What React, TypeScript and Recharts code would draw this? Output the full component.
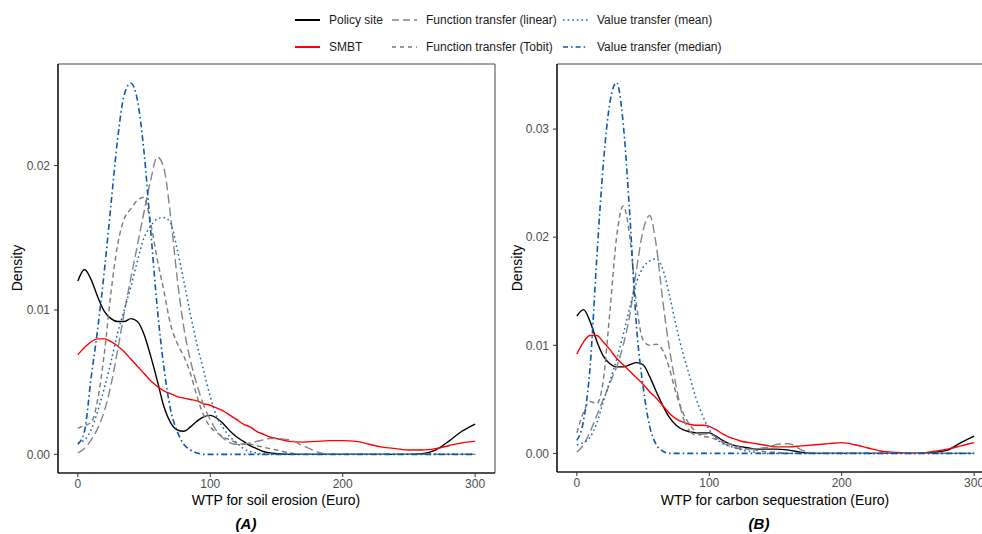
import React from 'react';
import { LineChart, Line, XAxis, YAxis, ReferenceArea } from 'recharts';

// WTP grid (Euro): every 5 up to 150, then every 10
const xs = [
  0, 5, 10, 15, 20, 25, 30, 35, 40, 45, 50, 55, 60, 65, 70, 75, 80, 85, 90, 95, 100,
  105, 110, 115, 120, 125, 130, 135, 140, 145, 150,
  160, 170, 180, 190, 200, 210, 220, 230, 240, 250, 260, 270, 280, 290, 300,
];

// (A) soil erosion
const policyA = [
  0.0120, 0.0128, 0.0121, 0.0109, 0.0099, 0.0094, 0.0092, 0.0092, 0.0094, 0.0092, 0.0083,
  0.0068, 0.0051, 0.0033, 0.0022, 0.0017, 0.0016, 0.0019, 0.0023, 0.0026, 0.0027,
  0.0025, 0.0021, 0.0016, 0.0012, 0.0009, 0.0006, 0.0004, 0.0002, 0.0001, 0.00005,
  0, 0, 0, 0, 0, 0, 0, 0, 0, 0, 0.00005, 0.0003, 0.0009, 0.0016, 0.0021,
];
const smbtA = [
  0.0069, 0.0074, 0.0078, 0.0080, 0.0080, 0.0078, 0.0075, 0.0071, 0.0066, 0.0061, 0.0056,
  0.0051, 0.0047, 0.0044, 0.0042, 0.0040, 0.0039, 0.0038, 0.0037, 0.0035, 0.0034,
  0.0032, 0.0030, 0.0027, 0.0024, 0.0021, 0.0019, 0.0016, 0.0014, 0.0012, 0.0011,
  0.0009, 0.00085, 0.0009, 0.00095, 0.00095, 0.0009, 0.0007, 0.0005, 0.0004, 0.0003,
  0.0003, 0.0004, 0.0006, 0.0008, 0.0009,
];
const linearA = [
  0.0001, 0.0004, 0.0010, 0.0018, 0.0030, 0.0048, 0.0072, 0.0098, 0.0122, 0.0145, 0.0168,
  0.0190, 0.0206, 0.0198, 0.0165, 0.0122, 0.0088, 0.0065, 0.0048, 0.0034, 0.0024,
  0.0016, 0.0011, 0.0008, 0.0007, 0.0007, 0.0008, 0.0009, 0.0010, 0.0011, 0.0011,
  0.0010, 0.0006, 0.0002, 0, 0, 0, 0, 0, 0, 0, 0, 0, 0, 0, 0,
];
const tobitA = [
  0.0018, 0.0020, 0.0022, 0.0038, 0.0070, 0.0112, 0.0145, 0.0163, 0.0170, 0.0176, 0.0178,
  0.0160, 0.0135, 0.0113, 0.0090, 0.0077, 0.0068, 0.0056, 0.0040, 0.0027, 0.0019,
  0.0015, 0.0012, 0.0010, 0.0008, 0.0007, 0.0007, 0.0006, 0.0005, 0.0004, 0.0003,
  0.0001, 0, 0, 0, 0, 0, 0, 0, 0, 0, 0, 0, 0, 0, 0,
];
const meanA = [
  0.0008, 0.0010, 0.0017, 0.0030, 0.0046, 0.0064, 0.0084, 0.0100, 0.0116, 0.0134, 0.0150,
  0.0158, 0.0163, 0.0164, 0.0160, 0.0142, 0.0120, 0.0097, 0.0076, 0.0058, 0.0040,
  0.0026, 0.0018, 0.0012, 0.0008, 0.0004, 0.0002, 0.0001, 0, 0, 0,
  0, 0, 0, 0, 0, 0, 0, 0, 0, 0, 0, 0, 0, 0, 0,
];
const medianA = [
  0.0007, 0.0016, 0.0053, 0.0087, 0.0127, 0.0173, 0.0218, 0.0249, 0.0257, 0.0245, 0.0209,
  0.0155, 0.0101, 0.0060, 0.0031, 0.0016, 0.0007, 0.0003, 0.0001, 0, 0,
  0, 0, 0, 0, 0, 0, 0, 0, 0, 0,
  0, 0, 0, 0, 0, 0, 0, 0, 0, 0, 0, 0, 0, 0, 0,
];

// (B) carbon sequestration
const policyB = [
  0.0127, 0.0133, 0.0122, 0.0104, 0.0090, 0.0083, 0.0080, 0.0080, 0.0082, 0.0084, 0.0082,
  0.0071, 0.0057, 0.0044, 0.0033, 0.0026, 0.0022, 0.0020, 0.0019, 0.0019, 0.0019,
  0.0016, 0.0012, 0.0009, 0.0007, 0.0006, 0.0005, 0.0004, 0.0004, 0.0004, 0.0004,
  0.0003, 0.0001, 0, 0, 0, 0, 0, 0, 0, 0, 0.00003, 0.0001, 0.0003, 0.0010, 0.0016,
];
const smbtB = [
  0.0092, 0.0103, 0.0109, 0.0109, 0.0103, 0.0096, 0.0088, 0.0082, 0.0076, 0.0070, 0.0064,
  0.0057, 0.0051, 0.0044, 0.0037, 0.0032, 0.0029, 0.0027, 0.0026, 0.0026, 0.0025,
  0.0022, 0.0018, 0.0015, 0.0013, 0.0011, 0.0010, 0.0009, 0.0008, 0.0007, 0.0006,
  0.0006, 0.0007, 0.0008, 0.0009, 0.0010, 0.0008, 0.0005, 0.0002, 0.0001, 0.00003,
  0.00003, 0.0002, 0.0004, 0.0007, 0.0010,
];
const linearB = [
  0.0001, 0.0008, 0.0020, 0.0035, 0.0050, 0.0065, 0.0080, 0.0100, 0.0128, 0.0170, 0.0206,
  0.0220, 0.0192, 0.0140, 0.0096, 0.0062, 0.0034, 0.0021, 0.0017, 0.0018, 0.0018,
  0.0015, 0.0010, 0.0007, 0.0005, 0.0004, 0.0004, 0.0004, 0.0005, 0.0006, 0.0008,
  0.0009, 0.0003, 0, 0, 0, 0, 0, 0, 0, 0, 0, 0, 0, 0, 0,
];
const tobitB = [
  0.0019, 0.0038, 0.0048, 0.0046, 0.0068, 0.0132, 0.0200, 0.0229, 0.0200, 0.0138, 0.0105,
  0.0100, 0.0101, 0.0095, 0.0078, 0.0055, 0.0038, 0.0027, 0.0020, 0.0016, 0.0015,
  0.0013, 0.0011, 0.0009, 0.0007, 0.0005, 0.0004, 0.0003, 0.0002, 0.0001, 0.0001,
  0, 0, 0, 0, 0, 0, 0, 0, 0, 0, 0, 0, 0, 0, 0,
];
const meanB = [
  0.0008, 0.0010, 0.0015, 0.0028, 0.0048, 0.0067, 0.0087, 0.0110, 0.0135, 0.0158, 0.0172,
  0.0178, 0.0180, 0.0170, 0.0146, 0.0118, 0.0093, 0.0072, 0.0051, 0.0035, 0.0022,
  0.0014, 0.0009, 0.0007, 0.0005, 0.0003, 0.0002, 0.0001, 0, 0, 0,
  0, 0, 0, 0, 0, 0, 0, 0, 0, 0, 0, 0, 0, 0, 0,
];
const medianB = [
  0.0012, 0.0030, 0.0080, 0.0180, 0.0268, 0.0325, 0.0343, 0.0305, 0.0220, 0.0118, 0.0062,
  0.0025, 0.0008, 0.0002, 0, 0, 0, 0, 0, 0, 0,
  0, 0, 0, 0, 0, 0, 0, 0, 0, 0,
  0, 0, 0, 0, 0, 0, 0, 0, 0, 0, 0, 0, 0, 0, 0,
];

const seriesKeys = ['policy', 'smbt', 'linear', 'tobit', 'mean', 'median'];
const seriesNames = [
  'Policy site', 'SMBT', 'Function transfer (linear)',
  'Function transfer (Tobit)', 'Value transfer (mean)', 'Value transfer (median)',
];
const xTicks = [0, 100, 200, 300];
const yTicksA = [0, 0.01, 0.02];
const yTicksB = [0, 0.01, 0.02, 0.03];

const styles: Record<string, { stroke: string; dash?: string; legendDash?: string; width: number }> = {
  policy: { stroke: '#000000', width: 1.4 },
  smbt: { stroke: '#ff0000', width: 1.4 },
  linear: { stroke: '#858585', dash: '9 4', legendDash: '7 4', width: 1.4 },
  tobit: { stroke: '#7a7a7a', dash: '5 3.5', legendDash: '4 4', width: 1.4 },
  mean: { stroke: '#1a62b5', dash: '1.6 3', legendDash: '1.6 3', width: 1.5 },
  median: { stroke: '#0b5aa8', dash: '6 3 1.6 3', legendDash: '5 3 1.6 3', width: 1.6 },
};

const FONT = '"Liberation Sans", Arial, Helvetica, sans-serif';

const buildRows = (cols: number[][]) =>
  xs.map((x, i) => {
    const row: Record<string, number> = { x };
    seriesKeys.forEach((k, j) => { row[k] = cols[j][i]; });
    return row;
  });

const rowsA = buildRows([policyA, smbtA, linearA, tobitA, meanA, medianA]);
const rowsB = buildRows([policyB, smbtB, linearB, tobitB, meanB, medianB]);

interface PanelProps {
  rows: Record<string, number>[];
  yDomain: [number, number];
  yTicks: number[];
  left: number;
  bottom: number;
}

const Panel = ({ rows, yDomain, yTicks, left, bottom }: PanelProps) => (
  <div style={{ position: 'absolute', left, top: 0 }}>
    <LineChart width={500} height={534} data={rows} margin={{ top: 64, right: 5, bottom, left: 0 }}>
      <ReferenceArea
        x1={-15} x2={315} y1={yDomain[0]} y2={yDomain[1]}
        fill="none" fillOpacity={0} stroke="#444" strokeWidth={1}
      />
      <XAxis
        dataKey="x" type="number" domain={[-15, 315]} ticks={xTicks} allowDataOverflow
        height={30} tickSize={4} tickMargin={2}
        axisLine={{ stroke: '#000', strokeWidth: 1.2 }} tickLine={{ stroke: '#333' }}
        tick={{ fill: '#4d4d4d', fontSize: 12, fontFamily: FONT }}
      />
      <YAxis
        type="number" domain={yDomain} ticks={yTicks} allowDataOverflow width={58}
        tickSize={4} tickMargin={4} tickFormatter={(v: number) => v.toFixed(2)}
        axisLine={{ stroke: '#000', strokeWidth: 1.2 }} tickLine={{ stroke: '#333' }}
        tick={{ fill: '#4d4d4d', fontSize: 12, fontFamily: FONT }}
      />
      {seriesKeys.map((k, i) => (
        <Line
          key={k} dataKey={k} name={seriesNames[i]} type="monotone" dot={false}
          stroke={styles[k].stroke} strokeWidth={styles[k].width} strokeDasharray={styles[k].dash}
          isAnimationActive={false}
        />
      ))}
    </LineChart>
  </div>
);

// legend grid: columns x, rows y
const legendCols = [295, 392, 563];
const legendRows = [20, 47];
const legendOrder = [['policy', 'linear', 'mean'], ['smbt', 'tobit', 'median']];

const App = () => (
  <div style={{ position: 'fixed', left: 0, top: 0, width: 982, height: 534, overflow: 'hidden', background: '#fff' }}>
    <Panel rows={rowsA} yDomain={[-0.00129, 0.02703]} yTicks={yTicksA} left={0} bottom={31} />
    <Panel rows={rowsB} yDomain={[-0.00172, 0.03602]} yTicks={yTicksB} left={499} bottom={32} />
    <svg width={982} height={534} style={{ position: 'absolute', left: 0, top: 0, pointerEvents: 'none' }}>
      {legendOrder.map((row, r) => row.map((k, c) => {
        const x = legendCols[c];
        const y = legendRows[r];
        const s = styles[k];
        return (
          <g key={k}>
            <line x1={x} x2={x + 25} y1={y} y2={y} stroke={s.stroke}
              strokeWidth={k === 'policy' || k === 'smbt' ? 2 : 1.6} strokeDasharray={s.legendDash} />
            <text x={x + 34} y={y + 4} fontSize={12} fontFamily={FONT} fill="#1a1a1a">
              {seriesNames[seriesKeys.indexOf(k)]}
            </text>
          </g>
        );
      }))}
      <text x={276} y={505} textAnchor="middle" fontSize={14} fontFamily={FONT} fill="#000">WTP for soil erosion (Euro)</text>
      <text x={775} y={505} textAnchor="middle" fontSize={14} fontFamily={FONT} fill="#000">WTP for carbon sequestration (Euro)</text>
      <text transform="translate(22,268) rotate(-90)" textAnchor="middle" fontSize={14} fontFamily={FONT} fill="#000">Density</text>
      <text transform="translate(522,268) rotate(-90)" textAnchor="middle" fontSize={14} fontFamily={FONT} fill="#000">Density</text>
      <text x={246} y={529} textAnchor="middle" fontSize={15} fontWeight="bold" fontStyle="italic" fontFamily={FONT} fill="#000">(A)</text>
      <text x={759} y={529} textAnchor="middle" fontSize={15} fontWeight="bold" fontStyle="italic" fontFamily={FONT} fill="#000">(B)</text>
    </svg>
  </div>
);

export default App;
